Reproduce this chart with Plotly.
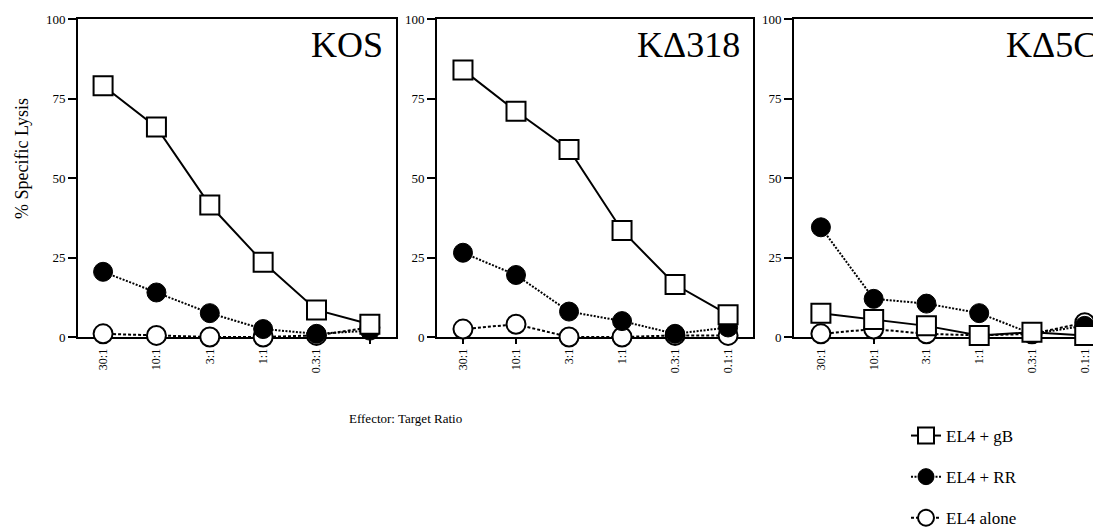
import plotly.graph_objects as go

# ---- data ----
categories = ["30:1", "10:1", "3:1", "1:1", "0.3:1", "0.1:1"]
kos_ticks = ["30:1", "10:1", "3:1", "1:1", "0.3:1", ""]
panel_names = ["KOS", "KΔ318", "KΔ5C"]
series_names = ["EL4 + gB", "EL4 + RR", "EL4 alone"]

kos_gB = [79, 66, 41.5, 23.5, 8.5, 4]
kos_RR = [20.5, 14, 7.5, 2.5, 1, 2]
kos_alone = [1, 0.5, 0, 0, 0.5, 3]

k318_gB = [84, 71, 59, 33.5, 16.5, 7]
k318_RR = [26.5, 19.5, 8, 5, 1, 3]
k318_alone = [2.5, 4, 0, 0, 0.5, 0.5]

k5c_gB = [7.5, 5.5, 3.5, 0.5, 1.5, 0.5]
k5c_RR = [34.5, 12, 10.5, 7.5, 1, 3.5]
k5c_alone = [1, 2.5, 1, 0.5, 1, 4.5]

y_ticks = [0, 25, 50, 75, 100]

# ---- layout geometry (pixels, figure coords; page body adds 8px offset) ----
W, H = 1101, 545
OFF = 8
TOP, BOTTOM = 19 - OFF, 337 - OFF
FONT = "Liberation Serif"

def fx(p):
    return (p - OFF) / W

def fy(p):
    return (BOTTOM - (p - OFF)) / (BOTTOM - TOP)

panels = [
    (kos_gB, kos_RR, kos_alone, kos_ticks, (fx(78), fx(396)), [-0.47, 5.49]),
    (k318_gB, k318_RR, k318_alone, categories, (fx(437), fx(753)), [-0.49, 5.47]),
    (k5c_gB, k5c_RR, k5c_alone, categories, (fx(794), 1.0), [-0.51, 5.46]),
]

styles = [
    dict(line=dict(color="black", width=2, dash="solid"),
         marker=dict(symbol="square", size=19, color="white",
                     line=dict(color="black", width=2))),
    dict(line=dict(color="black", width=2, dash="2px,1.5px"),
         marker=dict(symbol="circle", size=19, color="black",
                     line=dict(color="black", width=1))),
    dict(line=dict(color="black", width=2, dash="3px,2px"),
         marker=dict(symbol="circle", size=19, color="white",
                     line=dict(color="black", width=2))),
]

fig = go.Figure()
order = [2, 1, 0]  # draw alone, RR, then gB on top

for i, (gB, RR, alone, ticks, dom, xr) in enumerate(panels):
    n = "" if i == 0 else str(i + 1)
    vals = [gB, RR, alone]
    for k in order:
        fig.add_trace(go.Scatter(
            x=categories, y=vals[k], mode="lines+markers",
            name=series_names[k], legendgroup=series_names[k],
            legendrank=k + 1,
            showlegend=(i == 0), cliponaxis=False,
            xaxis="x" + n, yaxis="y" + n, **styles[k]))
    fig.update_layout(**{
        "xaxis" + n: dict(
            domain=list(dom), type="category",
            categoryorder="array", categoryarray=categories,
            range=xr, tickmode="array", tickvals=categories, ticktext=ticks,
            tickangle=-90, ticks="outside", ticklen=5, tickwidth=2,
            tickcolor="black", showline=True, linecolor="black", linewidth=2,
            mirror=True, showgrid=False, zeroline=False, automargin=False,
            layer="below traces", anchor="y" + n,
            tickfont=dict(family=FONT, size=12, color="black")),
        "yaxis" + n: dict(
            domain=[0, 1], range=[0, 100], tickvals=y_ticks,
            ticks="outside", ticklen=8, tickwidth=2, tickcolor="black",
            showline=True, linecolor="black", linewidth=2, mirror=True,
            showgrid=False, zeroline=False, automargin=False,
            layer="below traces", anchor="x" + n,
            tickfont=dict(family=FONT, size=13, color="black")),
    })

# panel titles
for i, name in enumerate(panel_names):
    n = "" if i == 0 else str(i + 1)
    if i < 2:
        fig.add_annotation(text=name, xref="x%s domain" % n, yref="y%s domain" % n,
                           x=1, y=1, xanchor="right", yanchor="top",
                           xshift=-11, yshift=-4, showarrow=False,
                           font=dict(family=FONT, size=36, color="black"))
    else:
        fig.add_annotation(text=name, xref="paper", yref="y%s domain" % n,
                           x=fx(1004), y=1, xanchor="left", yanchor="top",
                           yshift=-4, showarrow=False,
                           font=dict(family=FONT, size=36, color="black"))

fig.add_annotation(text="% Specific Lysis", xref="paper", yref="paper",
                   x=fx(22), y=fy(159), textangle=-90, showarrow=False,
                   xanchor="center", yanchor="middle",
                   font=dict(family=FONT, size=18, color="black"))
fig.add_annotation(text="Effector: Target Ratio", xref="paper", yref="paper",
                   x=fx(405), y=fy(418), showarrow=False,
                   xanchor="center", yanchor="middle",
                   font=dict(family=FONT, size=13, color="black"))

fig.update_layout(
    width=W, height=H,
    margin=dict(l=0, r=0, t=TOP, b=H - BOTTOM, pad=0),
    paper_bgcolor="white", plot_bgcolor="white",
    font=dict(family=FONT, color="black"),
    legend=dict(x=fx(906), y=fy(418), xanchor="left", yanchor="top",
                font=dict(family=FONT, size=17, color="black"),
                tracegroupgap=16, bgcolor="rgba(0,0,0,0)",
                traceorder="grouped"),
    showlegend=True,
)

fig.write_html("out.html")
